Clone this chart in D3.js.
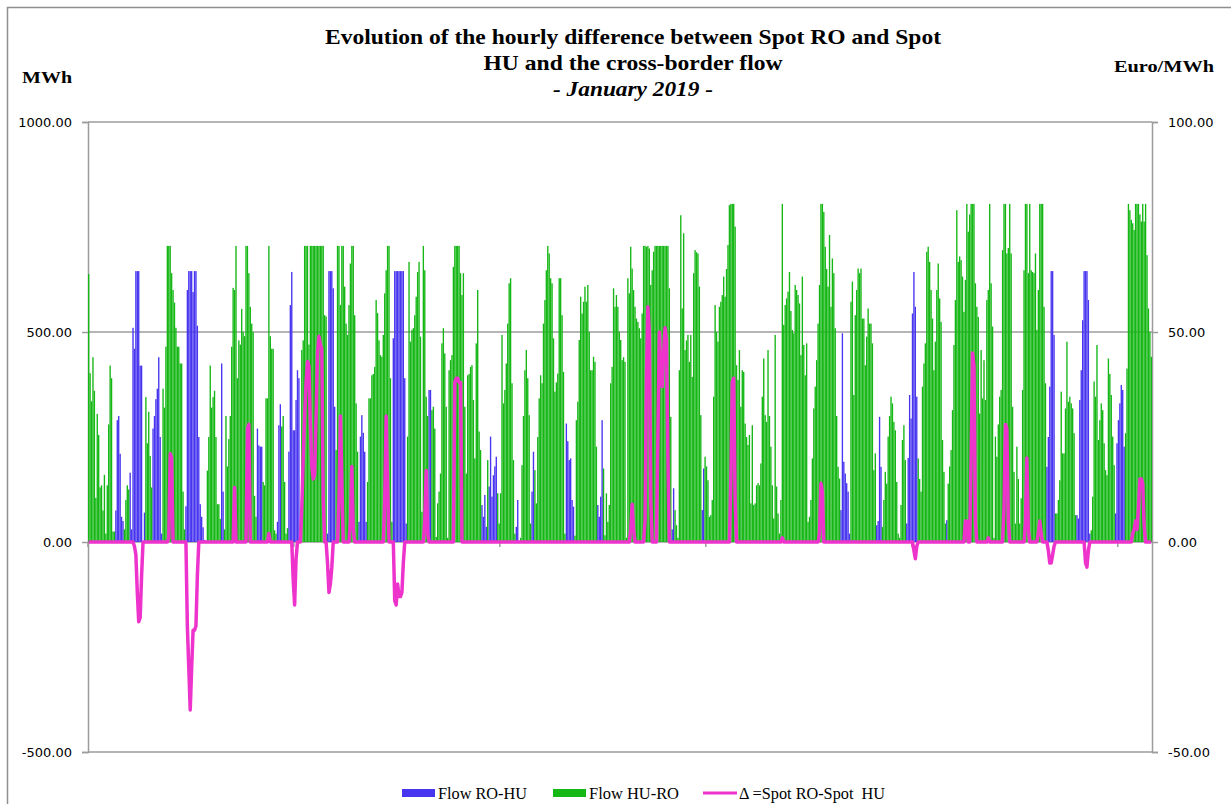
<!DOCTYPE html>
<html>
<head>
<meta charset="utf-8">
<script src="https://cdn.jsdelivr.net/npm/d3@7"></script>
<style>
  body { margin: 0; background: #fff; }
  svg { display: block; }
</style>
</head>
<body>
<svg></svg>
<script>
// hourly values for January 2019, one line per day (24 hours)
var flowROHU = [
  0,0,0,0,0,0,0,0,0,0,0,0,0,0,0,0,0,0,0,75,290,300,210,60,
  50,0,0,0,0,165,30,510,460,645,645,645,420,420,0,70,0,0,0,0,0,270,300,340,
  365,440,250,20,0,0,0,0,0,0,0,0,0,0,0,0,0,0,0,0,85,600,645,645,
  645,595,645,645,515,250,90,60,35,5,0,0,0,0,0,0,0,0,0,0,0,425,120,0,
  0,0,0,0,0,0,0,0,0,0,0,0,0,0,0,0,0,0,0,0,0,0,270,230,
  227,227,0,0,0,0,0,0,0,0,0,0,48,278,328,0,0,0,0,0,215,564,643,266,
  266,338,409,390,0,0,0,0,0,0,0,0,0,0,0,0,0,0,0,0,0,0,0,20,
  645,645,645,604,322,0,0,0,0,0,0,0,0,0,0,0,0,0,0,0,0,48,251,302,
  260,215,48,0,0,0,0,0,0,0,0,0,0,0,0,0,0,0,0,0,0,485,645,645,
  645,645,645,645,645,390,44,0,0,0,0,0,0,0,0,0,0,0,0,0,0,0,362,362,
  0,0,0,0,0,0,0,0,0,0,0,0,0,0,0,0,0,0,0,0,0,0,0,0,
  0,0,0,0,0,0,0,0,0,0,0,88,60,112,36,0,132,251,108,159,180,203,0,0,
  0,0,0,0,0,0,0,0,0,0,0,36,100,0,0,0,0,0,0,0,0,0,120,215,
  0,0,0,0,0,0,0,0,0,0,0,0,0,0,0,0,0,0,0,0,0,0,282,240,
  195,199,100,84,0,0,0,0,0,0,0,0,0,0,0,0,0,0,0,0,88,60,108,290,
  0,0,0,0,0,0,0,0,0,0,0,0,0,0,0,0,0,0,0,0,0,0,0,0,
  0,0,0,0,0,0,0,0,0,0,0,0,0,0,0,0,0,0,0,0,0,0,0,0,
  30,128,0,0,0,0,0,0,0,0,0,0,0,0,0,0,0,0,0,0,0,76,175,0,
  0,0,0,0,0,0,0,0,0,0,0,0,0,0,0,0,0,0,0,0,0,0,0,0,
  0,0,0,0,0,0,0,0,0,0,0,0,0,0,0,0,0,0,0,0,0,0,0,0,
  0,0,0,0,0,0,0,0,0,0,0,0,0,0,0,0,0,0,0,0,0,0,0,0,
  0,0,0,0,0,0,0,0,0,0,0,0,0,0,0,0,0,0,0,0,0,0,76,497,
  191,163,140,120,20,0,0,0,0,0,0,0,0,0,0,0,0,0,0,0,0,0,0,40,
  50,298,179,0,0,0,0,0,0,0,0,0,0,0,0,0,0,0,0,0,44,200,350,294,
  544,643,560,346,0,0,0,0,0,0,0,0,0,0,0,0,0,0,0,0,0,0,0,0,
  52,0,0,0,0,0,0,0,0,0,0,0,0,0,0,0,0,0,0,0,0,0,0,0,
  0,0,0,0,0,0,0,0,0,0,0,0,0,0,0,0,0,0,0,0,0,0,0,0,
  0,0,0,0,0,0,0,0,0,0,0,0,0,0,0,0,0,0,0,0,0,0,179,250,
  370,645,645,493,0,0,0,0,0,0,0,0,0,0,0,0,0,0,0,64,56,338,409,528,
  645,645,645,576,20,0,0,0,0,0,0,0,0,0,0,0,0,0,0,0,0,0,68,235,
  290,330,374,362,227,0,0,0,0,0,0,0,0,0,0,0,0,0,0,0,0,0,0,0
];

var flowHURO = [
  638,402,335,440,360,105,305,255,130,135,75,160,20,135,280,420,390,25,25,0,0,0,0,0,
  0,30,100,135,125,0,0,0,0,0,0,0,0,0,0,0,345,235,310,205,130,0,0,0,
  0,0,0,0,365,320,465,705,705,705,640,600,570,510,465,465,425,425,120,30,0,0,0,0,
  0,0,0,0,0,0,0,0,0,0,0,170,250,420,320,345,360,250,90,90,55,0,0,30,
  300,180,245,300,465,605,600,705,390,480,470,555,500,490,705,705,640,560,520,500,110,60,0,0,
  0,0,143,135,342,342,705,490,460,460,28,20,0,0,0,275,300,143,20,33,0,0,0,0,
  0,0,0,0,40,457,480,705,705,705,470,705,705,705,705,705,705,705,705,705,705,540,537,0,
  0,0,0,0,0,219,705,705,564,705,705,608,520,493,564,663,705,705,540,330,215,0,0,0,
  0,0,0,143,342,342,397,400,417,576,545,480,445,441,493,592,647,705,705,390,48,0,0,0,
  0,0,0,0,0,0,0,251,667,477,505,509,540,584,643,667,489,72,705,647,346,300,0,0,
  314,322,270,12,92,120,163,473,509,449,322,10,409,433,445,655,705,705,705,705,640,588,640,322,
  163,397,400,417,421,338,199,473,600,263,219,0,0,0,0,195,0,0,0,0,0,0,116,44,
  116,493,330,362,425,520,616,628,378,195,20,0,0,0,10,183,300,409,457,390,302,44,0,0,
  171,92,250,342,397,378,520,576,647,705,687,628,616,485,358,380,401,628,628,540,405,20,0,0,
  0,0,0,0,15,290,334,481,584,544,572,608,572,612,500,409,409,441,429,227,0,0,0,0,
  175,16,116,48,88,378,417,604,560,588,560,501,481,433,440,429,10,628,592,703,651,600,560,532,
  524,509,485,544,705,705,703,705,699,612,647,691,705,705,705,705,705,705,705,705,705,705,604,298,
  0,0,76,40,10,409,778,556,735,457,480,493,429,493,393,640,695,690,687,608,302,0,0,203,
  180,147,60,64,100,346,564,500,477,560,572,588,632,584,650,707,802,805,805,805,751,421,386,457,
  322,409,405,282,250,231,255,92,278,88,92,135,140,135,187,346,437,302,286,457,300,227,135,56,
  493,132,68,20,100,805,517,564,580,596,643,550,505,497,612,600,588,568,445,632,469,397,473,48,
  60,100,199,318,370,433,520,612,805,805,786,703,650,608,731,560,675,640,509,300,179,151,0,0,
  0,0,0,0,0,572,620,350,540,600,651,640,651,532,532,421,489,556,520,520,473,171,211,0,
  0,0,0,36,100,167,139,251,300,346,330,286,266,143,20,10,88,243,278,195,0,0,0,0,
  0,0,0,0,199,150,120,370,425,473,691,703,667,600,532,409,477,600,663,580,524,243,167,44,
  0,139,180,219,314,469,576,790,667,680,671,632,548,624,805,739,780,805,805,805,616,560,536,306,
  457,342,433,338,576,600,805,616,513,10,251,203,280,346,362,695,805,805,687,700,805,687,322,167,
  44,227,150,44,104,362,647,805,805,640,805,647,643,640,687,505,600,805,805,805,560,378,0,0,
  0,0,0,0,68,68,100,147,358,211,211,318,477,334,346,330,318,259,64,0,0,0,0,0,
  0,0,0,0,0,28,108,382,346,469,243,290,330,314,235,171,159,437,400,350,251,183,0,0,
  0,0,0,0,0,259,413,805,790,767,759,743,805,805,805,780,763,805,763,805,683,556,500,441
];

// spot RO - spot HU, Euro/MWh
var spread = [
  0,0,0,0,0,0,0,0,0,0,0,0,0,0,0,0,0,0,0,0,0,0,0,0,
  0,0,0,0,0,0,0,0,-1,-3,-12,-19,-18,-8,0,0,0,0,0,0,0,0,0,0,
  0,0,0,0,0,0,0,0,1,21,20,0,0,0,0,0,0,0,0,0,0,-20,-30,-40,
  -30,-21,-21,-20,-8,0,0,0,0,0,0,0,0,0,0,0,0,0,0,0,0,0,0,0,
  0,0,0,0,0,0,13,0,0,0,0,0,0,0,0,27,28,0,0,0,0,0,0,0,
  0,0,0,0,0,0,2,0,0,0,0,0,0,0,0,0,0,0,0,0,0,0,0,-9,
  -15,-4,0,0,0,8,20,30,38,43,42,28,18,15,16,30,45,49,47,46,10,0,0,-5,
  -12,-10,-6,0,0,0,0,10,30,15,0,0,0,0,0,5,18,3,0,0,0,0,0,0,
  0,0,0,0,0,0,0,0,0,0,0,0,0,0,0,10,30,14,0,0,0,0,-14,-15,
  -10,-13,-13,-12,-5,0,0,0,0,0,0,0,0,0,0,0,0,0,0,5,17,2,0,0,
  0,0,0,0,0,0,0,0,0,0,0,0,0,0,0,0,38,39,39,38,38,0,0,0,
  0,0,0,0,0,0,0,0,0,0,0,0,0,0,0,0,0,0,0,0,0,0,0,0,
  0,0,0,0,0,0,0,0,0,0,0,0,0,0,0,0,0,0,0,0,0,0,0,0,
  0,0,0,0,0,0,0,0,0,0,0,0,0,0,0,0,0,0,0,0,0,0,0,0,
  0,0,0,0,0,0,0,0,0,0,0,0,0,0,0,0,0,0,0,0,0,0,0,0,
  0,0,0,0,0,0,0,0,0,0,0,0,0,0,0,0,0,0,0,3,9,3,0,0,
  0,0,0,0,0,5,40,56,50,10,0,0,0,0,25,50,40,37,45,51,48,20,0,0,
  0,0,0,0,0,0,0,0,0,0,0,0,0,0,0,0,0,0,0,0,0,0,0,0,
  0,0,0,0,0,0,0,0,0,0,0,0,0,0,0,0,0,15,38,39,10,0,0,0,
  0,0,0,0,0,0,0,0,0,0,0,0,0,0,0,0,0,0,0,0,0,0,0,0,
  0,0,0,0,0,1,0,0,0,0,0,0,0,0,0,0,0,0,0,0,0,0,0,0,
  0,0,0,0,0,0,0,2,14,12,0,0,0,0,0,0,0,0,0,0,0,0,0,0,
  0,0,0,0,0,0,0,0,0,0,0,0,0,0,0,0,0,0,0,0,0,0,0,0,
  0,0,0,0,0,0,0,0,0,0,0,0,0,0,0,0,0,0,0,0,0,0,0,0,
  0,-2,-4,-1,0,0,0,0,0,0,0,0,0,0,0,0,0,0,0,0,0,0,0,0,
  0,0,0,0,0,0,0,0,0,0,0,0,0,5,5,0,0,20,45,42,5,0,0,0,
  0,0,0,0,0,1,0,0,0,0,0,0,0,0,0,0,8,28,27,5,0,0,0,0,
  0,0,0,0,0,0,0,5,20,3,0,0,0,0,0,0,2,5,2,0,0,0,0,-2,
  -5,-5,-3,-1,0,0,0,0,0,0,0,0,0,0,0,0,0,0,0,0,0,0,0,0,
  0,-5,-6,-2,0,0,0,0,0,0,0,0,0,0,0,0,0,0,0,0,0,0,0,0,
  0,0,0,0,0,0,0,0,0,0,2,3,5,3,8,15,15,14,4,0,0,0,0,0
];

var leftTicks = [1000, 500, 0, -500];
var rightTicks = [100, 50, 0, -50];
var seriesNames = ["Flow RO-HU", "Flow HU-RO", "\u0394 =Spot RO-Spot  HU"];
var colors = ["#4735ef", "#15b715", "#ee33cc"];

var width = 1231;
var height = 804;
var plot = { left: 88, right: 1152, top: 122, bottom: 752 };

var svg = d3.select("svg")
  .attr("width", width)
  .attr("height", height);

// outer chart frame
svg.append("rect")
  .attr("x", 7.5).attr("y", 7.5)
  .attr("width", 1300).attr("height", 900)
  .attr("fill", "none")
  .attr("stroke", "#8f8f8f")
  .attr("stroke-width", 1.5);

var x = d3.scaleBand()
  .domain(d3.range(flowHURO.length))
  .range([plot.left, plot.right])
  .paddingInner(0.05);

var yLeft = d3.scaleLinear().domain([-500, 1000]).range([plot.bottom, plot.top]);
var yRight = d3.scaleLinear().domain([-50, 100]).range([plot.bottom, plot.top]);

// horizontal gridlines
svg.append("g").selectAll("line")
  .data(leftTicks)
  .enter()
  .append("line")
  .attr("x1", plot.left).attr("x2", plot.right)
  .attr("y1", function(d) { return yLeft(d); })
  .attr("y2", function(d) { return yLeft(d); })
  .attr("stroke", "#9c9c9c")
  .attr("stroke-width", 1.5);

// axes
var leftAxis = svg.append("g")
  .attr("transform", "translate(" + plot.left + ",0)")
  .call(d3.axisLeft(yLeft).tickValues(leftTicks).tickSize(6).tickPadding(10)
    .tickFormat(function(d) { return d.toFixed(2); }));

var rightAxis = svg.append("g")
  .attr("transform", "translate(" + plot.right + ",0)")
  .call(d3.axisRight(yRight).tickValues(rightTicks).tickSize(6).tickPadding(10)
    .tickFormat(function(d) { return d.toFixed(2); }));

[leftAxis, rightAxis].forEach(function(ax) {
  ax.selectAll("path, line").attr("stroke", "#9c9c9c").attr("stroke-width", 1.5);
  ax.selectAll("text")
    .attr("fill", "#000")
    .style("font-family", "'DejaVu Sans', sans-serif")
    .style("font-size", "13px");
});

// bars, both flows drawn upward from zero
function drawBars(values, color) {
  svg.append("g").selectAll("rect")
    .data(values.map(function(v, i) { return { i: i, v: v }; })
      .filter(function(d) { return d.v > 0; }))
    .enter()
    .append("rect")
    .attr("x", function(d) { return x(d.i); })
    .attr("width", x.bandwidth())
    .attr("y", function(d) { return yLeft(d.v); })
    .attr("height", function(d) { return yLeft(0) - yLeft(d.v); })
    .attr("fill", color);
}
drawBars(flowROHU, colors[0]);
drawBars(flowHURO, colors[1]);

// category axis on the zero line, a tick every 6 days
var xAxis = svg.append("g")
  .attr("transform", "translate(0," + yLeft(0) + ")")
  .call(d3.axisBottom(x).tickValues(d3.range(0, flowHURO.length, 144))
    .tickSize(5).tickFormat(""));
xAxis.select(".domain").remove();
xAxis.selectAll("line")
  .attr("stroke", "#9c9c9c")
  .attr("stroke-width", 1.5)
  .attr("transform", "translate(" + (-x.step() / 2) + ",0)");

// price spread line on the right axis
var line = d3.line()
  .x(function(d, i) { return x(i) + x.bandwidth() / 2; })
  .y(function(d) { return yRight(d); });

svg.append("path")
  .datum(spread)
  .attr("d", line)
  .attr("fill", "none")
  .attr("stroke", colors[2])
  .attr("stroke-width", 3.5)
  .attr("stroke-linejoin", "round");

// titles
var serif = "'Liberation Serif', 'Times New Roman', serif";
var titleLines = [
  { text: "Evolution of the hourly difference between Spot RO and Spot", y: 44, len: 616, italic: false },
  { text: "HU and the cross-border flow", y: 70, len: 299, italic: false },
  { text: "- January 2019 -", y: 96, len: 160, italic: true }
];
svg.append("g").selectAll("text")
  .data(titleLines)
  .enter()
  .append("text")
  .attr("x", 633)
  .attr("y", function(d) { return d.y; })
  .attr("text-anchor", "middle")
  .attr("textLength", function(d) { return d.len; })
  .attr("lengthAdjust", "spacingAndGlyphs")
  .style("font-family", serif)
  .style("font-size", "21px")
  .style("font-weight", "bold")
  .style("font-style", function(d) { return d.italic ? "italic" : "normal"; })
  .text(function(d) { return d.text; });

svg.append("text")
  .attr("x", 22).attr("y", 83)
  .attr("textLength", 50).attr("lengthAdjust", "spacingAndGlyphs")
  .style("font-family", serif).style("font-size", "17px").style("font-weight", "bold")
  .text("MWh");

svg.append("text")
  .attr("x", 1114).attr("y", 72)
  .attr("textLength", 100).attr("lengthAdjust", "spacingAndGlyphs")
  .style("font-family", serif).style("font-size", "17px").style("font-weight", "bold")
  .text("Euro/MWh");

// legend
var legendItems = [
  { name: seriesNames[0], color: colors[0], x: 402, len: 89, type: "bar" },
  { name: seriesNames[1], color: colors[1], x: 553, len: 90, type: "bar" },
  { name: seriesNames[2], color: colors[2], x: 703, len: 146, type: "line" }
];
var legend = svg.append("g");
legendItems.forEach(function(item) {
  if (item.type === "bar") {
    legend.append("rect")
      .attr("x", item.x).attr("y", 789)
      .attr("width", 33).attr("height", 8)
      .attr("fill", item.color);
  } else {
    legend.append("line")
      .attr("x1", item.x).attr("x2", item.x + 34)
      .attr("y1", 793).attr("y2", 793)
      .attr("stroke", item.color)
      .attr("stroke-width", 3);
  }
  legend.append("text")
    .attr("x", item.x + 36).attr("y", 799)
    .attr("textLength", item.len).attr("lengthAdjust", "spacingAndGlyphs")
    .style("font-family", serif).style("font-size", "16px")
    .style("white-space", "pre")
    .text(item.name);
});
</script>
</body>
</html>
